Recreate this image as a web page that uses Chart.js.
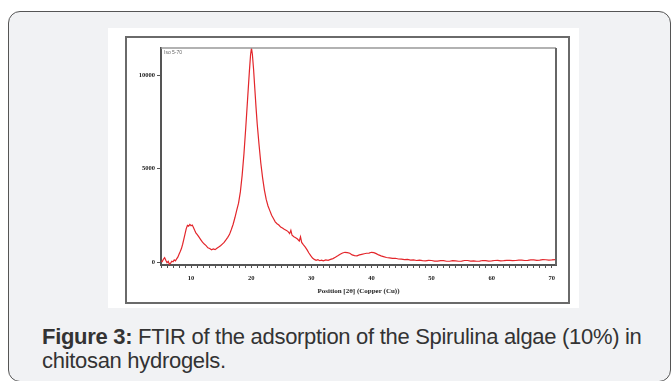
<!DOCTYPE html>
<html>
<head>
<meta charset="utf-8">
<script src="https://cdn.jsdelivr.net/npm/chart.js@4/dist/chart.umd.min.js"></script>
<style>
  html, body { margin: 0; padding: 0; background: #fff; }
  body { width: 672px; height: 381px; position: relative; overflow: hidden; }
  .card {
    position: absolute; left: 8px; top: 11px; width: 663px; height: 371px;
    background: #f1f2f4; border: 1.5px solid #555; border-radius: 12px; box-sizing: border-box;
  }
  .panel { position: absolute; left: 108px; top: 28px; width: 471px; height: 280px; background: #fff; }
  .frame {
    position: absolute; left: 125px; top: 36px; width: 445px; height: 268px;
    border: 2px solid #6a6a6a; box-sizing: border-box;
  }
  #chart { position: absolute; left: 108px; top: 28px; }
  .caption {
    position: absolute; left: 42px; top: 325px; width: 628px;
    font-family: "Liberation Sans", Arial, sans-serif; font-size: 22px; line-height: 24px; color: #333;
    letter-spacing: -0.3px;
  }
</style>
</head>
<body>
<div class="card"></div>
<div class="panel"></div>
<div class="frame"></div>
<canvas id="chart" width="471" height="280"></canvas>
<div class="caption"><b>Figure 3:</b> FTIR of the adsorption of the Spirulina algae (10%) in<br>chitosan hydrogels.</div>
<script>
'use strict';

// Position (2theta) and counts
var positions = [
  5.0, 5.2, 5.4, 5.6, 5.8, 6.0, 6.2, 6.4, 6.6, 6.8, 7.0, 7.2, 7.4, 7.6, 7.8,
  8.0, 8.2, 8.4, 8.6, 8.8, 9.0, 9.2, 9.4, 9.6, 9.8, 10.0, 10.2, 10.4, 10.6, 10.8,
  11.0, 11.3, 11.6, 11.9, 12.2, 12.5, 12.8, 13.1, 13.4, 13.7, 14.0, 14.3, 14.6, 14.9,
  15.2, 15.5, 15.8, 16.1, 16.4, 16.7, 17.0, 17.3, 17.6, 17.9, 18.2, 18.5, 18.8,
  19.1, 19.4, 19.7, 19.9, 20.05, 20.2, 20.4, 20.6, 20.8, 21.0, 21.3, 21.6, 21.9,
  22.2, 22.5, 22.8, 23.1, 23.4, 23.7, 24.0, 24.3, 24.6, 24.9, 25.2, 25.5, 25.8,
  26.1, 26.4, 26.6, 26.8, 27.1, 27.4, 27.7, 28.0, 28.2, 28.4, 28.7, 29.0, 29.3,
  29.6, 29.9, 30.2, 30.5, 30.8, 31.1, 31.4, 31.7, 32.0, 32.4, 32.8, 33.2, 33.6,
  34.0, 34.4, 34.8, 35.2, 35.6, 36.0, 36.4, 36.8, 37.2, 37.6, 38.0, 38.4, 38.8,
  39.2, 39.6, 40.0, 40.4, 40.8, 41.2, 41.6, 42.0, 42.5, 43.0, 43.5, 44.0, 44.5,
  45.0, 45.5, 46.0, 46.5, 47.0, 47.5, 48.0, 48.5, 49.0, 49.5, 50.0, 50.5, 51.0,
  51.5, 52.0, 52.5, 53.0, 53.5, 54.0, 54.5, 55.0, 55.5, 56.0, 56.5, 57.0, 57.5,
  58.0, 58.5, 59.0, 59.5, 60.0, 60.5, 61.0, 61.5, 62.0, 62.5, 63.0, 63.5, 64.0,
  64.5, 65.0, 65.5, 66.0, 66.5, 67.0, 67.5, 68.0, 68.5, 69.0, 69.5, 70.0, 70.6
];
var counts = [
  60, 20, 150, 230, 90, -40, 30, -120, -60, 40, 10, 110, 60, 170, 260,
  420, 560, 720, 950, 1230, 1500, 1790, 1960, 1920, 2010, 1940, 1980, 1850, 1700, 1560,
  1480, 1340, 1200, 1060, 960, 880, 760, 720, 650, 700, 660, 740, 800, 870,
  960, 1050, 1180, 1320, 1480, 1740, 2020, 2380, 2780, 3150, 3750, 4650, 5800,
  7200, 8700, 10200, 11100, 11450, 11100, 10300, 9300, 8300, 7400, 6300, 5300, 4500,
  3850, 3350, 3000, 2750, 2500, 2330, 2150, 2050, 1980, 1870, 1820, 1750, 1700,
  1640, 1520, 1700, 1430, 1350, 1300, 1230, 1120, 1350, 1050, 920, 800, 650,
  480, 340, 210, 140, 90, 120, 70, 100, 60, 110, 90, 140, 180,
  250, 330, 420, 480, 520, 500, 470, 380, 340, 330, 380, 410, 440,
  470, 480, 520, 500, 450, 380, 330, 290, 240, 220, 190, 200, 160,
  150, 130, 140, 100, 110, 80, 100, 70, 60, 90, 80, 50, 50,
  70, 70, 40, 40, 70, 60, 40, 50, 80, 80, 50, 60, 40,
  50, 80, 70, 50, 60, 80, 90, 60, 70, 90, 90, 70, 80,
  100, 100, 80, 90, 110, 110, 90, 100, 130, 120, 100, 110, 130
];

var yTickValues = [0, 5000, 10000];
var xLabelValues = [10, 20, 30, 40, 50, 60, 70];
var scanName = 'Iso 5-70';
var xTitle = 'Position [2\u03b8] (Copper (Cu))';

var points = positions.map(function(p, i) {
  return { x: p, y: counts[i] };
});

var tickFont = { family: '"Liberation Serif", "DejaVu Serif", serif', size: 6.5, weight: 'bold' };

// Box around the plot and the scan name in its corner
var plotBox = {
  id: 'plotBox',
  afterDraw: function(chart) {
    var a = chart.chartArea;
    var ctx = chart.ctx;
    ctx.save();
    ctx.strokeStyle = '#999';
    ctx.lineWidth = 1.5;
    ctx.beginPath();
    ctx.moveTo(a.left, a.top);
    ctx.lineTo(a.right, a.top);
    ctx.stroke();
    ctx.strokeStyle = '#666';
    ctx.lineWidth = 2;
    ctx.beginPath();
    ctx.moveTo(a.right, a.top);
    ctx.lineTo(a.right, a.bottom);
    ctx.stroke();
    ctx.fillStyle = '#666';
    ctx.font = '5px "Liberation Sans", sans-serif';
    ctx.textBaseline = 'top';
    ctx.fillText(scanName, a.left + 3, a.top + 2);
    ctx.restore();
  }
};

new Chart(document.getElementById('chart'), {
  type: 'line',
  data: {
    datasets: [{
      data: points,
      borderColor: '#e3262b',
      borderWidth: 1.2,
      pointRadius: 0,
      tension: 0,
      fill: false
    }]
  },
  options: {
    responsive: false,
    animation: false,
    layout: { padding: { left: 0, top: 20, right: 23, bottom: 13 } },
    plugins: { legend: { display: false }, tooltip: { enabled: false } },
    scales: {
      x: {
        type: 'linear',
        min: 5,
        max: 70.7,
        afterBuildTicks: function(scale) {
          var t = [];
          for (var v = 5; v <= 70; v++) t.push({ value: v });
          scale.ticks = t;
        },
        afterFit: function(scale) { scale.height = 30; },
        border: { display: true, color: '#555', width: 2 },
        grid: { drawOnChartArea: false, tickLength: 3, color: '#555', tickWidth: 1 },
        ticks: {
          autoSkip: false,
          maxRotation: 0,
          padding: 6,
          color: '#222',
          font: tickFont,
          callback: function(v) { return xLabelValues.indexOf(v) >= 0 ? String(v) : ''; }
        },
        title: {
          display: true,
          text: xTitle,
          color: '#222',
          font: { family: '"Liberation Serif", "DejaVu Serif", serif', size: 7, weight: 'bold' },
          padding: { top: 4, bottom: 0 }
        }
      },
      y: {
        min: -160,
        max: 11450,
        afterBuildTicks: function(scale) {
          scale.ticks = yTickValues.map(function(v) { return { value: v }; });
        },
        afterFit: function(scale) { scale.width = 53; },
        border: { display: true, color: '#555', width: 2 },
        grid: { drawOnChartArea: false, tickLength: 4, color: '#555' },
        ticks: {
          padding: 2,
          color: '#222',
          font: tickFont,
          callback: function(v) { return String(v); }
        }
      }
    }
  },
  plugins: [plotBox]
});
</script>
</body>
</html>
